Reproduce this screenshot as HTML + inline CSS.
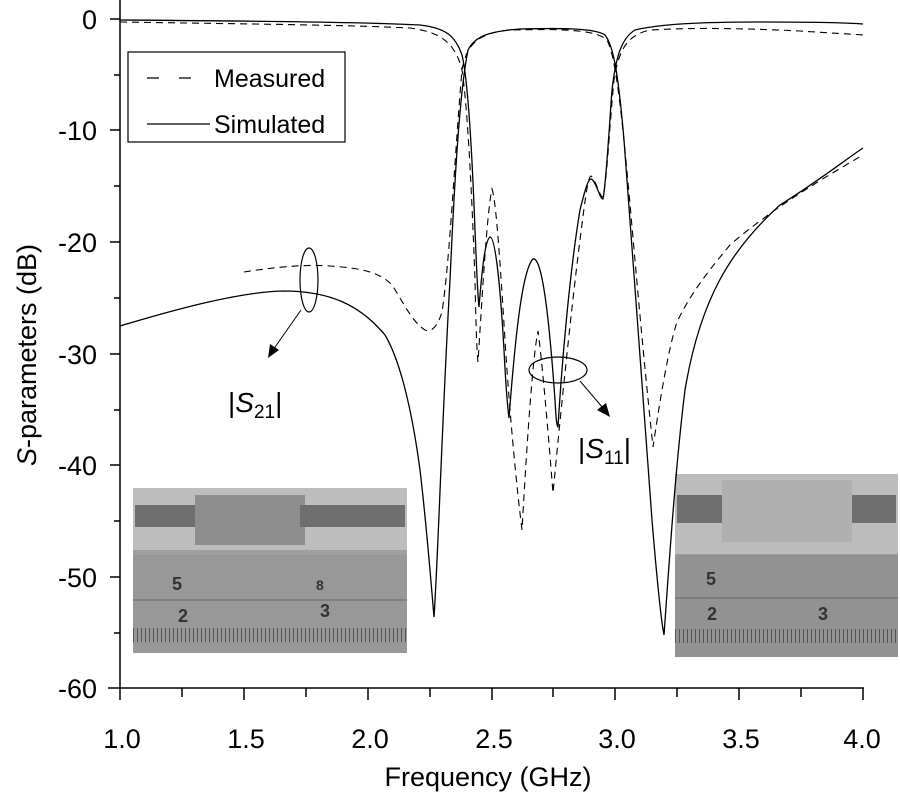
<!DOCTYPE html>
<html><head><meta charset="utf-8"><style>
html,body{margin:0;padding:0;background:#fff;}
svg{display:block;font-family:"Liberation Sans",sans-serif;}
</style></head><body>
<svg width="900" height="800" viewBox="0 0 900 800" xmlns="http://www.w3.org/2000/svg">
<!-- photos -->
<g>
<rect x="133" y="488" width="274" height="165" fill="#a0a0a0"/>
<rect x="133" y="488" width="274" height="62" fill="#bdbdbd"/>
<rect x="135" y="505" width="60" height="22" fill="#6f6f6f"/>
<rect x="195" y="495" width="110" height="50" fill="#8e8e8e"/>
<rect x="300" y="505" width="105" height="22" fill="#6f6f6f"/>
<rect x="133" y="555" width="274" height="98" fill="#989898"/>
<line x1="133" y1="600" x2="407" y2="600" stroke="#666"/>
<line x1="133" y1="635" x2="407" y2="635" stroke="#555" stroke-width="14" stroke-dasharray="1 3"/>
<text x="172" y="590" font-size="18" font-weight="bold" fill="#333">5</text>
<text x="178" y="622" font-size="18" font-weight="bold" fill="#333">2</text>
<text x="316" y="590" font-size="14" font-weight="bold" fill="#333">8</text>
<text x="320" y="617" font-size="18" font-weight="bold" fill="#333">3</text>
<rect x="675" y="474" width="223" height="183" fill="#9c9c9c"/>
<rect x="675" y="474" width="223" height="80" fill="#bcbcbc"/>
<rect x="677" y="495" width="45" height="28" fill="#6f6f6f"/>
<rect x="722" y="480" width="130" height="62" fill="#b0b0b0"/>
<rect x="852" y="495" width="44" height="28" fill="#6f6f6f"/>
<rect x="675" y="555" width="223" height="102" fill="#929292"/>
<line x1="675" y1="598" x2="898" y2="598" stroke="#666"/>
<line x1="675" y1="636" x2="898" y2="636" stroke="#555" stroke-width="14" stroke-dasharray="1 3"/>
<text x="706" y="585" font-size="18" font-weight="bold" fill="#333">5</text>
<text x="707" y="620" font-size="18" font-weight="bold" fill="#333">2</text>
<text x="818" y="620" font-size="18" font-weight="bold" fill="#333">3</text>
</g>
<!-- axes -->
<g stroke="#000" stroke-width="1.5" fill="none">
<line x1="120" y1="0" x2="120" y2="700"/>
<line x1="108" y1="688" x2="864" y2="688"/>
<line x1="110" y1="19" x2="120" y2="19"/>
<line x1="110" y1="130" x2="120" y2="130"/>
<line x1="110" y1="242" x2="120" y2="242"/>
<line x1="110" y1="354" x2="120" y2="354"/>
<line x1="110" y1="465" x2="120" y2="465"/>
<line x1="110" y1="577" x2="120" y2="577"/>
<line x1="114" y1="75" x2="120" y2="75"/>
<line x1="114" y1="186" x2="120" y2="186"/>
<line x1="114" y1="298" x2="120" y2="298"/>
<line x1="114" y1="410" x2="120" y2="410"/>
<line x1="114" y1="521" x2="120" y2="521"/>
<line x1="114" y1="633" x2="120" y2="633"/>
<line x1="244" y1="688" x2="244" y2="700"/>
<line x1="368" y1="688" x2="368" y2="700"/>
<line x1="492" y1="688" x2="492" y2="700"/>
<line x1="615" y1="688" x2="615" y2="700"/>
<line x1="739" y1="688" x2="739" y2="700"/>
<line x1="863" y1="688" x2="863" y2="700"/>
<line x1="182" y1="688" x2="182" y2="697"/>
<line x1="306" y1="688" x2="306" y2="697"/>
<line x1="430" y1="688" x2="430" y2="697"/>
<line x1="553" y1="688" x2="553" y2="697"/>
<line x1="677" y1="688" x2="677" y2="697"/>
<line x1="801" y1="688" x2="801" y2="697"/>
</g>
<g font-size="27" text-anchor="end" fill="#000">
<text x="97" y="29">0</text>
<text x="97" y="140">-10</text>
<text x="97" y="252">-20</text>
<text x="97" y="364">-30</text>
<text x="97" y="475">-40</text>
<text x="97" y="587">-50</text>
<text x="97" y="698">-60</text>
</g>
<g font-size="27" text-anchor="middle" fill="#000">
<text x="122" y="748">1.0</text>
<text x="246" y="748">1.5</text>
<text x="370" y="748">2.0</text>
<text x="494" y="748">2.5</text>
<text x="617" y="748">3.0</text>
<text x="741" y="748">3.5</text>
<text x="862" y="748">4.0</text>
<text x="488" y="786">Frequency (GHz)</text>
<text transform="translate(36,355) rotate(-90)"><tspan font-style="italic">S</tspan>-parameters (dB)</text>
</g>
<!-- curves -->
<g fill="none" stroke="#000" stroke-width="1.3">
<path d="M120,326 C180,308 240,292 283,291 C330,291 360,305 385,335 C400,360 412,410 420,470 C426,520 430,570 434,617 C438,560 442,420 450,280 C455,170 460,90 468,50 C475,36 490,31 520,29 C560,28 595,28 605,35 C613,45 618,70 624,140 C632,250 645,420 652,520 C657,580 661,620 664,635 C668,580 675,470 685,390 C700,300 730,250 780,205 C820,180 845,160 863,148"/>
<path d="M120,20 C250,21 360,22 420,25 C445,28 455,35 462,55 C468,80 472,150 475,230 C477,280 478,300 479,307 C482,270 485,240 490,237 C495,237 500,280 504,350 C506,390 508,410 509,418 C515,340 522,270 533,259 C543,256 550,330 555,400 C556,420 557,427 558,427 C562,360 570,270 580,210 C585,190 588,179 591,179 C596,180 600,200 603,199 C606,185 609,130 612,90 C616,55 622,38 635,30 C660,24 700,22 760,22 C820,22 850,23 863,24"/>
</g>
<g fill="none" stroke="#000" stroke-width="1.1" stroke-dasharray="7 5">
<path d="M244,272 C270,268 300,264 330,266 C360,268 380,272 392,285 C402,300 412,322 425,330 C432,333 438,325 442,312 C450,260 455,150 462,70 C467,42 480,33 510,30 C560,29 595,29 607,40 C618,60 625,150 635,260 C642,340 648,400 653,447 C660,400 668,350 677,322 C690,295 705,275 730,245 C770,210 820,180 863,155"/>
<path d="M120,22 C250,24 350,25 410,28 C440,32 455,42 462,70 C468,110 472,200 475,280 C476,330 477,355 478,362 C482,300 487,210 492,189 C496,200 500,260 505,340 C510,420 517,490 522,530 C526,460 532,360 538,331 C542,360 548,430 553,493 C560,420 570,320 580,240 C585,200 588,176 591,176 C596,180 600,198 603,197 C607,180 610,120 614,80 C619,48 628,35 650,30 C700,27 760,29 800,31 C830,33 850,34 863,35"/>
</g>
<!-- legend -->
<rect x="128" y="52" width="217" height="90" fill="#fff" stroke="#000" stroke-width="1.2"/>
<line x1="147" y1="78" x2="207" y2="78" stroke="#000" stroke-width="1.2" stroke-dasharray="12 20"/>
<line x1="147" y1="124" x2="210" y2="124" stroke="#000" stroke-width="1.2"/>
<text x="214" y="87" font-size="25">Measured</text>
<text x="214" y="133" font-size="25">Simulated</text>
<!-- annotations -->
<ellipse cx="309" cy="280" rx="9" ry="32" fill="none" stroke="#000" stroke-width="1.2"/>
<line x1="301" y1="310" x2="273" y2="350" stroke="#000" stroke-width="1"/>
<polygon points="268,358 270,344 279,350" fill="#000"/>
<text x="228" y="412" font-size="28">|<tspan font-style="italic">S</tspan><tspan font-size="19" dy="6">21</tspan><tspan dy="-6">|</tspan></text>
<ellipse cx="558" cy="370" rx="29" ry="13" fill="none" stroke="#000" stroke-width="1.2"/>
<line x1="580" y1="381" x2="603" y2="408" stroke="#000" stroke-width="1"/>
<polygon points="610,417 597,410 606,403" fill="#000"/>
<text x="578" y="458" font-size="28">|<tspan font-style="italic">S</tspan><tspan font-size="19" dy="6">11</tspan><tspan dy="-6">|</tspan></text>
</svg>
</body></html>
